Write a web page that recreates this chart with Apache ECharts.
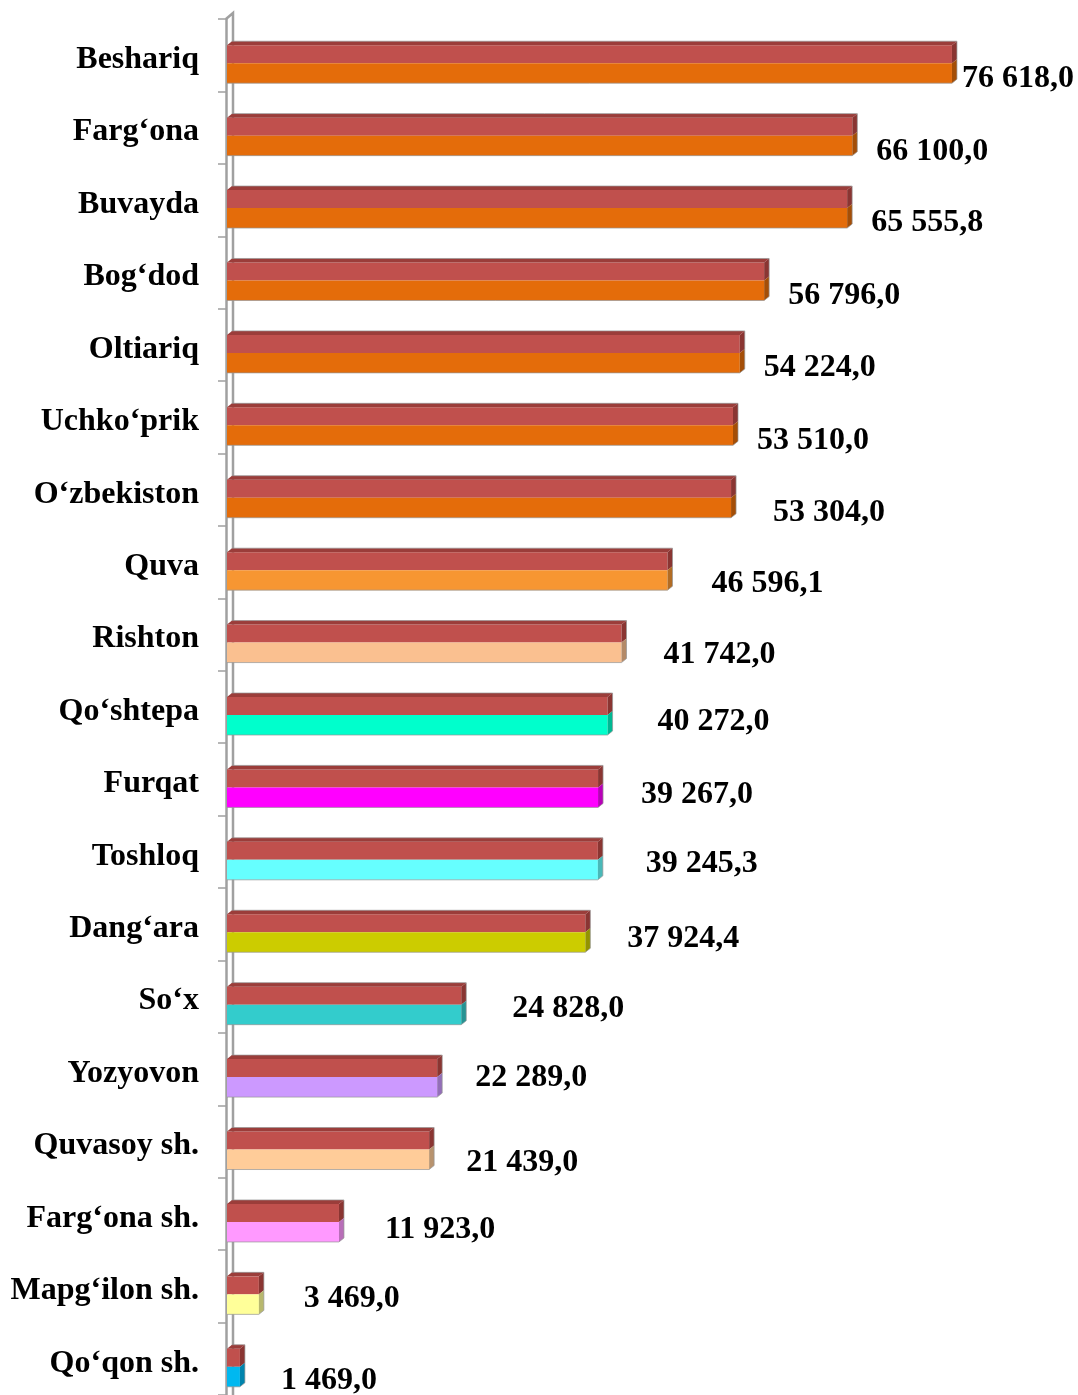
<!DOCTYPE html>
<html><head><meta charset="utf-8">
<script src="https://cdn.jsdelivr.net/npm/echarts@6/dist/echarts.min.js"></script>
<style>html,body{margin:0;padding:0;background:#fff}#c{width:1078px;height:1395px}</style>
</head><body><div id="c"></div>
<script>
// ---- data ----
const categories = ['Beshariq','Farg‘ona','Buvayda','Bog‘dod','Oltiariq','Uchko‘prik','O‘zbekiston','Quva','Rishton','Qo‘shtepa','Furqat','Toshloq','Dang‘ara','So‘x','Yozyovon','Quvasoy sh.','Farg‘ona sh.','Mapg‘ilon sh.','Qo‘qon sh.'];
const values = [76618.0, 66100.0, 65555.8, 56796.0, 54224.0, 53510.0, 53304.0, 46596.1, 41742.0, 40272.0, 39267.0, 39245.3, 37924.4, 24828.0, 22289.0, 21439.0, 11923.0, 3469.0, 1469.0];

// ---- styles ----
const lowerColors = ['#E46C0A','#E46C0A','#E46C0A','#E46C0A','#E46C0A','#E46C0A','#E46C0A','#F79632','#FAC090','#00FFCC','#FF00FF','#66FFFF','#CCCC00','#33CCCC','#CC99FF','#FFCC99','#FF99FF','#FFFF99','#00B8F0'];
const labelOffsets = [[10,24],[24,24],[24,23],[24,23],[24,23],[24,23],[42,23],[44,22],[42,20],[50,15],[43,15],[48,12],[42,14],[51,12],[38,9],[37,21],[46,16],[45,12],[41,22]];
const upperColor = '#C0504D';
const FONT = 'bold 32px "Liberation Serif", "Times New Roman", serif';

function darken(hex, f) {
  const n = parseInt(hex.slice(1), 16);
  const r = Math.round(((n >> 16) & 255) * f), g = Math.round(((n >> 8) & 255) * f), b = Math.round((n & 255) * f);
  return 'rgb(' + r + ',' + g + ',' + b + ')';
}
function fmt(v) {
  const s = v.toFixed(1).split('.');
  return s[0].replace(/\B(?=(\d{3})+(?!\d))/g, ' ') + ',' + s[1];
}

function renderItem(params, api) {
  const idx = api.value(0);
  const v = api.value(1);
  const end = api.coord([v, idx]);
  const start = api.coord([0, idx]);
  const xEnd = end[0], yc = end[1];
  const x0 = start[0] + 1;
  const yb = yc + 8;
  const d = 5, h = 4, up = 18, lo = 20;
  const col = lowerColors[idx];
  const cs = params.coordSys;
  const children = [];
  if (params.dataIndex === 0) {
    children.push({type: 'polyline', shape: {points: [[cs.x, cs.y], [cs.x + 7, cs.y - 6], [cs.x + 7, cs.y + cs.height + 10]]},
      style: {stroke: '#A0A0A0', lineWidth: 2.5, fill: null}, z2: 0});
  }
  // front faces
  children.push({type: 'rect', shape: {x: x0, y: yb - up, width: xEnd - x0, height: up}, style: {fill: upperColor}});
  children.push({type: 'rect', shape: {x: x0, y: yb, width: xEnd - x0, height: lo}, style: {fill: col}});
  // top face
  children.push({type: 'polygon', shape: {points: [[x0, yb - up], [xEnd, yb - up], [xEnd + d, yb - up - h], [x0 + d, yb - up - h]]},
    style: {fill: '#9B3D3A'}});
  // side faces
  children.push({type: 'polygon', shape: {points: [[xEnd, yb - up], [xEnd + d, yb - up - h], [xEnd + d, yb - h], [xEnd, yb]]},
    style: {fill: '#8A3532'}});
  children.push({type: 'polygon', shape: {points: [[xEnd, yb], [xEnd + d, yb - h], [xEnd + d, yb + lo - h], [xEnd, yb + lo]]},
    style: {fill: darken(col, 0.72)}});
  // outline
  children.push({type: 'polyline', shape: {points: [[x0, yb + lo], [xEnd, yb + lo], [xEnd + d, yb + lo - h], [xEnd + d, yb - up - h], [x0 + d, yb - up - h]]},
    style: {stroke: 'rgba(150,150,150,0.7)', lineWidth: 1, fill: null}});
  // value label
  const off = labelOffsets[idx];
  children.push({type: 'text', style: {text: fmt(v), x: xEnd + off[0], y: yc + off[1], font: FONT, fill: '#000', align: 'left', verticalAlign: 'middle'}});
  return {type: 'group', children: children};
}

const chart = echarts.init(document.getElementById('c'), null, {renderer: 'canvas'});
chart.setOption({
  animation: false,
  backgroundColor: '#fff',
  grid: {left: 226, top: 19, width: 758, height: 1379},
  xAxis: {type: 'value', min: 0, max: 80000, show: false},
  yAxis: {
    type: 'category', inverse: true, data: categories,
    axisLine: {show: true, lineStyle: {color: '#A0A0A0', width: 2.5}},
    axisTick: {show: true, length: 8, lineStyle: {color: '#A0A0A0', width: 1.5}},
    axisLabel: {
      margin: 27,
      formatter: function (v) { return '{a|' + v + '}'; },
      rich: {a: {fontFamily: '"Liberation Serif", "Times New Roman", serif', fontWeight: 'bold', fontSize: 32, color: '#000', padding: [9, 0, 0, 0]}}
    },
    splitLine: {show: false}
  },
  series: [{
    type: 'custom',
    renderItem: renderItem,
    encode: {x: 1, y: 0},
    data: values.map(function (v, i) { return [i, v]; }),
    clip: false
  }]
});
</script>
</body></html>
